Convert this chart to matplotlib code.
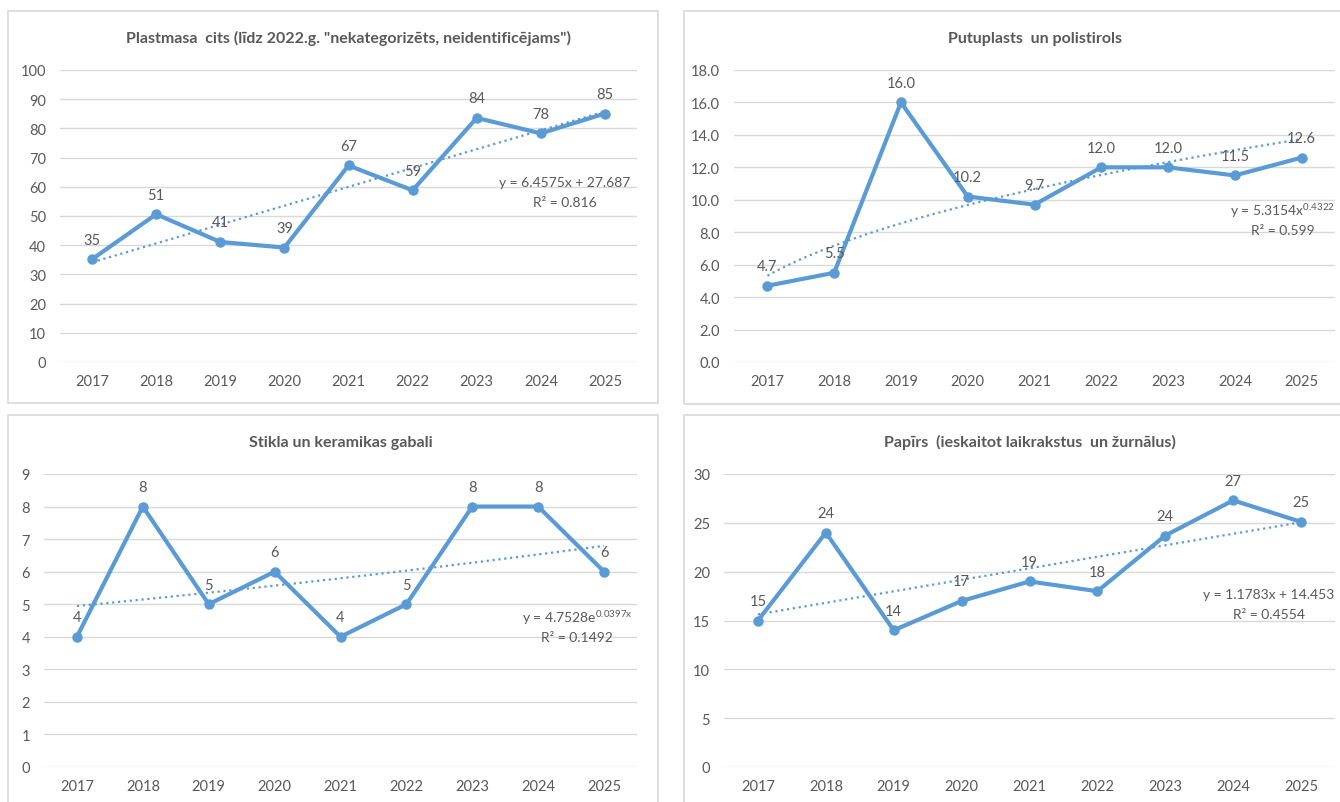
import numpy as np
import matplotlib.pyplot as plt
from matplotlib.patches import Rectangle

plt.rcParams['font.family'] = ['Lato', 'DejaVu Sans']
plt.rcParams['mathtext.fontset'] = 'custom'
plt.rcParams['mathtext.rm'] = 'Lato'

years = ['2017', '2018', '2019', '2020', '2021', '2022', '2023', '2024', '2025']

# values
plastmasa = [35.2, 50.6, 41.1, 39.2, 67.3, 58.8, 83.6, 78.3, 85.1]
putuplasts = [4.7, 5.5, 16.0, 10.2, 9.7, 12.0, 12.0, 11.5, 12.6]
stikls = [4, 8, 5, 6, 4, 5, 8, 8, 6]
papirs = [15.0, 24.0, 14.0, 17.0, 19.0, 18.0, 23.7, 27.3, 25.1]

titles = ['Plastmasa  cits (līdz 2022.g. "nekategorizēts, neidentificējams")',
          'Putuplasts  un polistirols',
          'Stikla un keramikas gabali',
          'Papīrs  (ieskaitot laikrakstus  un žurnālus)']

BLUE = '#5B9BD5'
GREY = '#595959'
W, H = 1340, 803

fig = plt.figure(figsize=(13.4, 8.03), dpi=100)

# panel frames (pixels: left, top, right, bottom)
for l, t, r, b in [(8, 12, 658, 404), (684, 12, 1345, 405),
                   (8, 416, 658, 810), (684, 416, 1345, 810)]:
    fig.patches.append(Rectangle((l / W, 1 - b / H), (r - l) / W, (b - t) / H,
                                 transform=fig.transFigure, fill=False,
                                 edgecolor='#D9D9D9', lw=1.2))


def make_ax(l, t, r, b):
    return fig.add_axes([l / W, 1 - b / H, (r - l) / W, (b - t) / H])


def draw(ax, vals, ymax, step, fmt, title, trend, eq, eq_pos, title_y):
    x = np.arange(1, len(vals) + 1)
    ax.set_xlim(0.5, len(vals) + 0.5)
    ax.set_ylim(0, ymax)
    ticks = np.arange(0, ymax + step / 2, step)
    ax.set_yticks(ticks)
    ax.set_yticklabels([fmt.format(t) for t in ticks])
    ax.set_xticks(x)
    ax.set_xticklabels(years)
    ax.grid(axis='y', color='#D9D9D9', lw=1)
    ax.set_axisbelow(True)
    for s in ax.spines.values():
        s.set_visible(False)
    ax.tick_params(length=0, labelsize=10.5, colors=GREY)
    ax.tick_params(axis='y', pad=10)
    ax.tick_params(axis='x', pad=9)

    tx = np.linspace(1, len(vals), 100)
    ax.plot(tx, trend(tx), ':', color=BLUE, lw=1.6, zorder=2)
    ax.plot(x, vals, '-o', color=BLUE, lw=3, ms=6.5, zorder=3)
    for xi, v in zip(x, vals):
        ax.annotate(fmt.format(v), (xi, v), xytext=(0, 9), textcoords='offset points',
                    ha='center', va='bottom', fontsize=10.5, color=GREY)

    ax.text(eq_pos[0], eq_pos[1], eq[0], transform=ax.transAxes,
            ha='center', va='center', fontsize=10, color=GREY)
    ax.text(eq_pos[0], eq_pos[1] - 0.068, eq[1], transform=ax.transAxes,
            ha='center', va='center', fontsize=10, color=GREY)
    ax.text(0.5, title_y, title, transform=ax.transAxes, ha='center', va='center',
            fontsize=11.5, fontweight='bold', color=GREY)


ax1 = make_ax(60, 71, 637, 363)
draw(ax1, plastmasa, 100, 10, '{:.0f}', titles[0],
     lambda t: 6.4575 * t + 27.687,
     ('y = 6.4575x + 27.687', 'R² = 0.816'), (0.875, 0.615), 1.11)

ax2 = make_ax(734, 71, 1335, 363)
draw(ax2, putuplasts, 18, 2, '{:.1f}', titles[1],
     lambda t: 5.3154 * t ** 0.4322,
     (r'y = 5.3154x$^{\mathregular{0.4322}}$', 'R² = 0.599'), (0.913, 0.521), 1.11)

ax3 = make_ax(44, 475, 637, 768)
draw(ax3, stikls, 9, 1, '{:.0f}', titles[2],
     lambda t: 4.7528 * np.exp(0.0397 * t),
     (r'y = 4.7528e$^{\mathregular{0.0397x}}$', 'R² = 0.1492'), (0.899, 0.513), 1.11)

ax4 = make_ax(724, 475, 1335, 768)
draw(ax4, papirs, 30, 5, '{:.0f}', titles[3],
     lambda t: 1.1783 * t + 14.453,
     ('y = 1.1783x + 14.453', 'R² = 0.4554'), (0.892, 0.59), 1.11)

fig.savefig('out.png', dpi=100)
